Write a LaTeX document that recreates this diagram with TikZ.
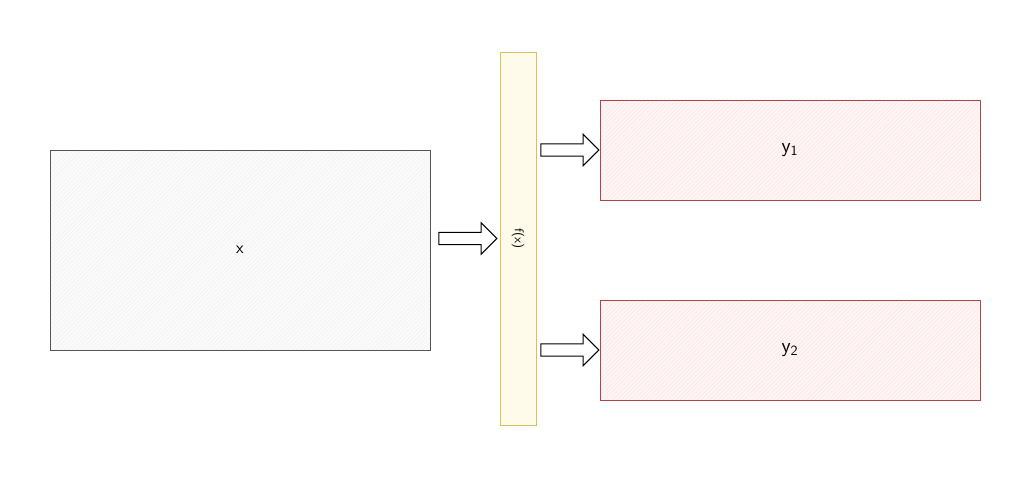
\documentclass[tikz,border=0pt]{standalone}
\usepackage{tikz}
\usetikzlibrary{positioning,shapes.arrows,patterns}

\definecolor{boxgray}{HTML}{555555}
\definecolor{barline}{HTML}{D9C25A}
\definecolor{barfill}{HTML}{FFFBEA}
\definecolor{outred}{HTML}{B04545}
\definecolor{outfill}{HTML}{FEF6F6}

\begin{document}
\begin{tikzpicture}[
    font=\sffamily\large,
    inbox/.style={draw=boxgray,line width=0.6pt,preaction={fill=gray!3},preaction={pattern=north east lines,pattern color=gray!10}},
    outbox/.style={draw=outred,line width=0.6pt,font=\sffamily\Large,preaction={fill=outfill},preaction={pattern=north east lines,pattern color=red!10}},
    fatarrow/.style={single arrow,draw=black,fill=white,line width=0.7pt,inner xsep=0pt,inner ysep=0.14cm,
      single arrow head extend=0.24cm,minimum height=1.45cm}
  ]

  \useasboundingbox (0,0) rectangle (25.8,-11.925);

  \node (x) at (6,-6.25) [inbox,minimum width=9.5cm,minimum height=5cm] {x};

  \node (f) at (12.95,-5.9625) [draw=barline,line width=0.6pt,fill=barfill,minimum width=0.9cm,minimum height=9.325cm] {};
  \node at (f.center) [rotate=-90,font=\sffamily\small] {f(x)};

  \node (y1) at (19.75,-3.75) [outbox,minimum width=9.5cm,minimum height=2.5cm] {y\textsubscript{1}};
  \node (y2) at (19.75,-8.75) [outbox,minimum width=9.5cm,minimum height=2.5cm] {y\textsubscript{2}};

  % fat arrows between the blocks
  \node (a0) [fatarrow,left=0.05cm of f.west] {};
  \node (a1) [fatarrow,left=0cm of y1.west] {};
  \node (a2) [fatarrow,left=0cm of y2.west] {};

\end{tikzpicture}
\end{document}
